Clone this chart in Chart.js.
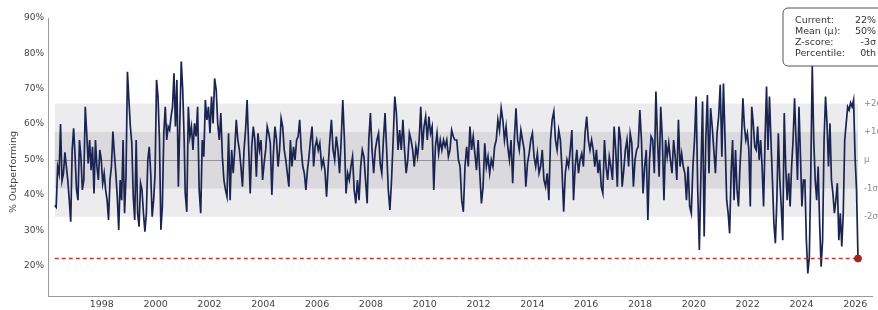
<!DOCTYPE html>
<html>
<head>
<meta charset="utf-8">
<script src="https://cdn.jsdelivr.net/npm/chart.js@4.4.1/dist/chart.umd.min.js"></script>
<style>
  html, body { margin: 0; padding: 0; background: #fff; }
  #wrap { width: 878px; height: 310px; }
</style>
</head>
<body>
<div id="wrap"><canvas id="chart" width="878" height="310"></canvas></div>
<script>
// ─── Data ─────────────────────────────────────────────────────────
const xTicks = [1998, 2000, 2002, 2004, 2006, 2008, 2010, 2012, 2014, 2016, 2018, 2020, 2022, 2024, 2026];
const yTicks = [20, 30, 40, 50, 60, 70, 80, 90];

const meanPct = 49.8;
const sigmaPct = 8.0;
const sigmaSteps = [2, 1, 0, -1, -2];
const sigmaLabels = ['+2σ', '+1σ', 'μ', '-1σ', '-2σ'];
const currentPct = 22;

const statLabels = ['Current:', 'Mean (μ):', 'Z-score:', 'Percentile:'];
const statValues = ['22%', '50%', '-3σ', '0th'];

// each block of readings covers [start, end] in years
const blockSpans = [[1996.25, 2001.06], [2001.10, 2006.10], [2006.17, 2011.12], [2011.19, 2016.14], [2016.20, 2021.16], [2021.22, 2026.10]];

const pct1996 = [37, 36.5, 48, 46, 60, 44, 46, 52, 48, 44, 38.5, 32.4, 52.7, 58.8, 50.8, 41.4, 38.5, 55.5, 50.8, 41.4,
  44.2, 64.9, 57.4, 48.9, 55.5, 47, 53.6, 40.4, 55.5, 48, 44.2, 52.7, 49.9, 43.3, 46.1, 41.4, 38.5, 32.9, 44.2, 48,
  57.9, 51.7, 46.1, 39.5, 30.1, 44.2, 38.5, 55.5, 34.8, 45.1, 74.8, 66.8, 59.3, 54.6, 39.5, 32.9, 55.5, 34.8, 31, 43.3,
  41.4, 34.8, 29.6, 34.8, 49.9, 53.6, 46.1, 33.8, 38.5, 46.1, 72.5, 67.8, 55.5, 30.1, 36.7, 57.4, 64.9, 55.5, 59.3, 58.3,
  62.1, 64.9, 74.4, 59.3, 72.5, 42.3, 60.2, 77.7, 69.7, 55.5];
const pct2001 = [40.4, 35.2, 64.9, 56.5, 59.3, 52.7, 60.2, 56.5, 64.9, 41.4, 34.8, 55.5, 50.8, 66.8, 61.2, 64.9, 57.4, 67.8, 60.2, 72.9,
  69.7, 60.2, 55.5, 63.1, 50.8, 44.2, 41.4, 39.5, 57.4, 38.5, 52.7, 46.1, 52.7, 61.2, 55.5, 52.7, 48, 42.3, 52.7, 58.3,
  66.8, 53.6, 40.4, 53.6, 59.3, 55.5, 45.1, 57.4, 52.7, 55.5, 44.2, 48.9, 52.7, 59.3, 57.4, 54.6, 40, 51.7, 59.3, 55.5,
  48, 52.7, 61.6, 59.3, 52.7, 49.9, 46.1, 42.3, 55.5, 48, 53.6, 49.9, 55.5, 56.5, 61.2, 52.7, 48, 46.1, 41.4, 47,
  50.8, 55.5, 59.3, 48, 53.6, 55.5, 52.7, 54.6];
const pct2006 = [48, 49.9, 47, 39.5, 48, 55.5, 61.2, 52.7, 49.9, 56.5, 52.7, 46.1, 55.5, 66.8, 55.5, 40.4, 46.1, 44.2, 48, 50.8,
  41.4, 37.6, 44.2, 38.5, 48, 52.7, 50.8, 44.2, 37.6, 55.5, 63.1, 52.7, 46.1, 52.7, 55.5, 57.4, 48.9, 46.1, 55.5, 63.1,
  52.7, 41.4, 35.7, 44.2, 55.5, 67.8, 63.1, 52.7, 58.3, 52.7, 61.2, 52.7, 46.1, 49.9, 57.4, 55.5, 52.7, 48, 53.6, 50.8,
  55.5, 64.9, 52.7, 59.3, 62.1, 55.5, 62.1, 57.4, 59.3, 41.4, 53.6, 57.4, 51.7, 55.5, 52.7, 55.5, 53.6, 55.5, 50.8, 52.7,
  58.3, 56.5, 55.5];
const pct2011 = [55.5, 49.9, 48, 38.5, 35.2, 48, 53.6, 48, 59.3, 52.7, 56.5, 51.7, 47, 55.5, 46.1, 37.6, 42.3, 54.6, 48, 50.8,
  46.1, 49.9, 48, 53.6, 55.5, 61.2, 58.3, 64.5, 61.2, 55.5, 59.3, 53.6, 49.9, 55.5, 43.3, 55.5, 64.5, 55.5, 52.7, 58.3,
  55.5, 52.7, 42.3, 48.9, 51.7, 55.5, 57.4, 50.8, 48, 51.7, 46.1, 48, 52.7, 44.2, 42.3, 46.1, 38.5, 55.5, 61.2, 63.5,
  55.5, 52.7, 58.3, 55.5, 47, 35.2, 46.1, 49.9, 48, 52.7, 58.3, 38.5, 48, 52.7, 46.1, 49.9, 51.7, 48, 57.4, 62.1,
  55.5, 52.7];
const pct2016 = [55.5, 52.7, 48, 52.7, 46.1, 49.9, 42.3, 40.4, 55.5, 48, 44.2, 50.8, 48, 44.2, 59.3, 52.7, 42.3, 59.3, 55.5, 42.3,
  47, 52.7, 55.5, 48, 57.4, 54.6, 42.3, 49.9, 52.7, 53.6, 64, 55.5, 40.4, 48, 52.7, 32.9, 49.9, 56.5, 55.5, 46.1,
  69.2, 55.5, 45.1, 64.9, 55.5, 38.5, 55.5, 50.8, 54.6, 49.9, 46.1, 55.5, 50.8, 44.2, 61.2, 48, 51.7, 48, 46.1, 38.5,
  48, 36.7, 34.8, 48, 55.5, 67.8, 41.4, 24.4, 46.1, 66.4, 28.2, 55.5, 68.2, 46.1, 64.5, 59.3, 52.7, 46.1, 57.4, 62.1,
  71.1, 50.8, 71.5, 55.5];
const pct2021 = [38.5, 34.8, 29.1, 46.1, 55.5, 38.5, 52.7, 41.4, 36.7, 48, 55.5, 67.3, 59.3, 55.5, 57.4, 52.7, 36.7, 64.9, 60.2, 53.6,
  52.7, 59.3, 49.9, 55.5, 48, 36.7, 55.5, 70.6, 52.7, 67.8, 55.5, 44.2, 31.9, 26.3, 38.5, 57.4, 44.2, 36.7, 27.2, 63.1,
  48, 38.5, 46.1, 36.7, 48, 55.5, 67.3, 55.5, 44.2, 64.9, 50.8, 36.7, 44.2, 44.2, 27.2, 17.8, 22.5, 46.1, 76.5, 55.5,
  44.2, 38.5, 48, 31.9, 19.7, 27.2, 55.5, 67.8, 60.2, 48, 60.2, 44.2, 40.4, 34.8, 38.5, 43.3, 27.2, 34.8, 25.4, 34.8,
  55.5, 60.2, 64.9, 64, 66, 64.9, 66.8, 50.8, 41.4, 22];

const blocks = [pct1996, pct2001, pct2006, pct2011, pct2016, pct2021];

// ─── Build series ─────────────────────────────────────────────────
const series = [];
blocks.forEach((vals, b) => {
  const [t0, t1] = blockSpans[b];
  vals.forEach((v, i) => series.push({ x: t0 + (t1 - t0) * i / (vals.length - 1), y: v }));
});
const firstX = series[0].x;
const lastX = series[series.length - 1].x;

const FONT = 'DejaVu Sans';

// ─── Plugins ──────────────────────────────────────────────────────
const bandsPlugin = {
  id: 'bands',
  beforeDatasetsDraw(chart) {
    const { ctx, scales: { x, y } } = chart;
    const x0 = x.getPixelForValue(firstX);
    const x1 = x.getPixelForValue(lastX);
    const band = (lo, hi, color) => {
      const yt = y.getPixelForValue(hi);
      const yb = y.getPixelForValue(lo);
      ctx.fillStyle = color;
      ctx.fillRect(x0, yt, x1 - x0, yb - yt);
    };
    ctx.save();
    band(meanPct - 2 * sigmaPct, meanPct + 2 * sigmaPct, '#ececef');
    band(meanPct - sigmaPct, meanPct + sigmaPct, '#dadade');
    const ym = Math.round(y.getPixelForValue(meanPct)) + 0.5;
    ctx.strokeStyle = 'rgba(70,70,70,0.6)';
    ctx.lineWidth = 0.8;
    ctx.beginPath();
    ctx.moveTo(x0, ym);
    ctx.lineTo(x1, ym);
    ctx.stroke();
    ctx.restore();
  }
};

const notesPlugin = {
  id: 'notes',
  afterDraw(chart) {
    const { ctx, scales: { y } } = chart;
    ctx.save();

    // sigma labels at the right edge
    ctx.font = `8.5px "${FONT}"`;
    ctx.fillStyle = '#8a8a8a';
    ctx.textAlign = 'left';
    ctx.textBaseline = 'middle';
    sigmaSteps.forEach((k, i) => {
      ctx.fillText(sigmaLabels[i], 864, y.getPixelForValue(meanPct + k * sigmaPct));
    });

    // y axis title
    ctx.save();
    ctx.translate(14, 172);
    ctx.rotate(-Math.PI / 2);
    ctx.textAlign = 'center';
    ctx.fillStyle = '#444';
    ctx.font = `9.5px "${FONT}"`;
    ctx.fillText('% Outperforming', 0, 0);
    ctx.restore();

    // stats box
    const bx = 783, by = 8, bw = 100, bh = 58, r = 5;
    ctx.beginPath();
    ctx.moveTo(bx + r, by);
    ctx.lineTo(bx + bw - r, by);
    ctx.arcTo(bx + bw, by, bx + bw, by + r, r);
    ctx.lineTo(bx + bw, by + bh - r);
    ctx.arcTo(bx + bw, by + bh, bx + bw - r, by + bh, r);
    ctx.lineTo(bx + r, by + bh);
    ctx.arcTo(bx, by + bh, bx, by + bh - r, r);
    ctx.lineTo(bx, by + r);
    ctx.arcTo(bx, by, bx + r, by, r);
    ctx.closePath();
    ctx.fillStyle = '#fff';
    ctx.fill();
    ctx.strokeStyle = '#555';
    ctx.lineWidth = 1;
    ctx.stroke();

    ctx.font = `9.5px "${FONT}"`;
    ctx.fillStyle = '#333';
    ctx.textBaseline = 'middle';
    statLabels.forEach((lab, i) => {
      const ty = 21 + i * 11;
      ctx.textAlign = 'left';
      ctx.fillText(lab, 795, ty);
      ctx.textAlign = 'right';
      ctx.fillText(statValues[i], 876, ty);
    });
    ctx.restore();
  }
};

// ─── Chart ────────────────────────────────────────────────────────
new Chart(document.getElementById('chart'), {
  type: 'line',
  data: {
    datasets: [
      {
        data: series,
        borderColor: '#1b2350',
        borderWidth: 1.7,
        pointRadius: 0,
        tension: 0,
        order: 2
      },
      {
        data: [{ x: firstX, y: currentPct }, { x: lastX, y: currentPct }],
        borderColor: '#c43a32',
        borderWidth: 1.3,
        borderDash: [4, 3],
        pointRadius: 0,
        order: 1
      },
      {
        data: [{ x: lastX, y: currentPct }],
        showLine: false,
        pointRadius: 3.5,
        pointBackgroundColor: '#a8231c',
        pointBorderColor: '#a8231c',
        order: 0
      }
    ]
  },
  options: {
    responsive: false,
    animation: false,
    devicePixelRatio: 1,
    parsing: false,
    normalized: true,
    layout: { padding: { top: 18, right: 6, left: 0, bottom: 0 } },
    plugins: { legend: { display: false }, tooltip: { enabled: false } },
    scales: {
      x: {
        type: 'linear',
        min: 1996.0,
        max: 2026.62,
        afterBuildTicks: s => { s.ticks = xTicks.map(v => ({ value: v })); },
        afterFit: s => { s.height = 14; },
        grid: { display: false, drawTicks: false },
        border: { display: true, color: '#9a9a9a', width: 1 },
        ticks: { color: '#444', font: { family: FONT, size: 9.5 }, padding: 3, maxRotation: 0, callback: v => String(v) }
      },
      y: {
        min: 11.4,
        max: 90,
        afterBuildTicks: s => { s.ticks = yTicks.map(v => ({ value: v })); },
        afterFit: s => { s.width = 48; },
        grid: { display: false, drawTicks: false },
        border: { display: true, color: '#9a9a9a', width: 1 },
        ticks: { color: '#444', font: { family: FONT, size: 9 }, padding: 4, callback: v => v + '%' }
      }
    }
  },
  plugins: [bandsPlugin, notesPlugin]
});
</script>
</body>
</html>
